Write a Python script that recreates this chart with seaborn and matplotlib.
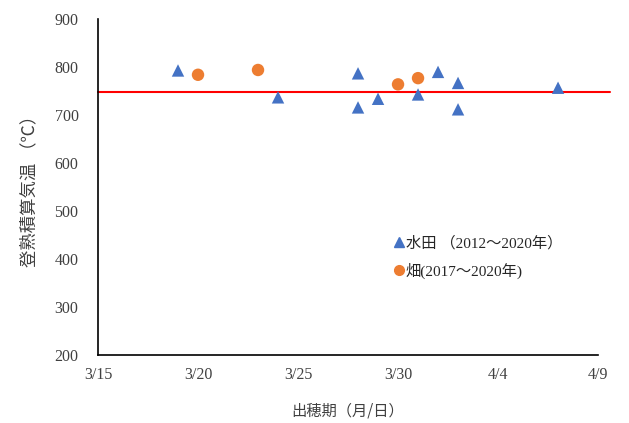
import pandas as pd
import numpy as np
import seaborn as sns
import matplotlib.pyplot as plt
from matplotlib.lines import Line2D

# 水田 (2012~2020)
paddy_dates = ['3/19', '3/24', '3/28', '3/28', '3/29', '3/31', '4/1', '4/2', '4/2', '4/7']
paddy_temp = [793, 737, 787, 716, 734, 743, 790, 767, 712, 757]
# 畑 (2017~2020)
field_dates = ['3/20', '3/23', '3/30', '3/31']
field_temp = [784, 794, 764, 777]
# 平均線
mean_temp = 748

tick_labels = ['3/15', '3/20', '3/25', '3/30', '4/4', '4/9']
y_ticks = [200, 300, 400, 500, 600, 700, 800, 900]

label_paddy = '水田 （2012～2020年）'
label_field = '畑(2017～2020年)'


def to_date(s):
    return pd.to_datetime('2020/' + s, format='%Y/%m/%d')


df = pd.DataFrame({
    'date': [to_date(d) for d in paddy_dates + field_dates],
    'temp': paddy_temp + field_temp,
    'kind': [label_paddy] * len(paddy_dates) + [label_field] * len(field_dates),
})

sns.set_style('white')
plt.rcParams['font.family'] = ['Noto Sans CJK JP', 'DejaVu Sans']
mixed = ['Liberation Serif', 'Noto Sans CJK JP']

fig = plt.figure(figsize=(6.29, 4.23), dpi=100)
ax = fig.add_axes([0.1558, 0.1608, 0.795, 0.794])

palette = {label_paddy: '#4472C4', label_field: '#ED7D31'}
markers = {label_paddy: '^', label_field: 'o'}
sns.scatterplot(data=df, x='date', y='temp', hue='kind', style='kind',
                palette=palette, markers=markers, s=80, linewidth=0,
                ax=ax, legend=False, zorder=3)

# red average line (runs a bit beyond the axis end, like the original)
ax.axhline(mean_temp, xmin=0, xmax=1.024, color='#FF0000', lw=1.5, clip_on=False, zorder=2)

tick_dates = [to_date(t) for t in tick_labels]
ax.set_xlim(tick_dates[0], tick_dates[-1])
ax.set_xticks(tick_dates)
ax.set_xticklabels(tick_labels)
ax.set_ylim(y_ticks[0], y_ticks[-1])
ax.set_yticks(y_ticks)

for side in ['top', 'right']:
    ax.spines[side].set_visible(False)
for side in ['left', 'bottom']:
    ax.spines[side].set_color('black')
    ax.spines[side].set_linewidth(1.2)
ax.tick_params(axis='both', direction='in', length=4, width=1, colors='black',
               labelsize=11.5, labelcolor='#404040')
ax.tick_params(axis='y', pad=14)
ax.tick_params(axis='x', pad=9)
for lab in ax.get_xticklabels() + ax.get_yticklabels():
    lab.set_family('Liberation Serif')

ax.set_xlabel('出穂期（月/日）', fontsize=11, color='#404040', labelpad=14)
ax.set_ylabel('登熟積算気温 （℃）', fontsize=12.5, color='#404040', labelpad=12)

handles = [
    Line2D([], [], marker='^', color='#4472C4', ls='', markersize=7),
    Line2D([], [], marker='o', color='#ED7D31', ls='', markersize=7),
]
leg = ax.legend(handles, [label_paddy, label_field], loc='upper left',
                bbox_to_anchor=(0.567, 0.395), frameon=False,
                prop={'family': mixed, 'size': 11},
                handlelength=0.5, handletextpad=0.2, labelspacing=0.8,
                labelcolor='#262626')

fig.savefig('out.png', dpi=100)
